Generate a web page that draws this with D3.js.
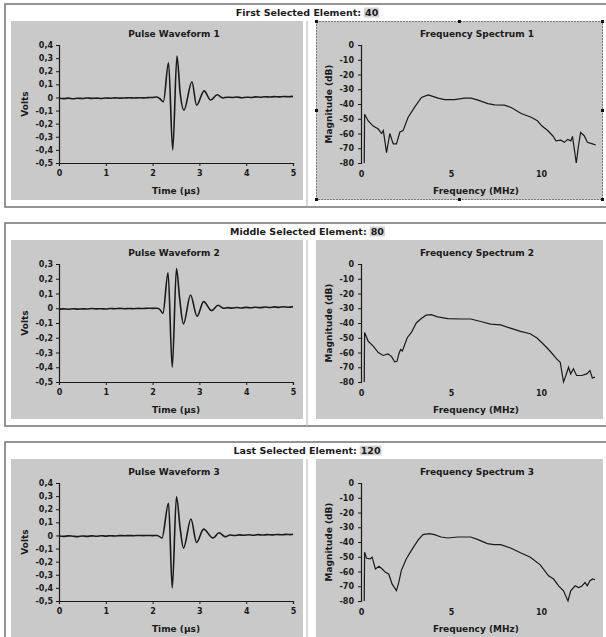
<!DOCTYPE html>
<html>
<head>
<meta charset="utf-8">
<script src="https://cdn.jsdelivr.net/npm/d3@7"></script>
<style>
  body { margin: 0; background: #fff; }
  svg { display: block; font-family: "DejaVu Sans", Verdana, sans-serif; }
</style>
</head>
<body>
<div id="chart"></div>
<script>
// labels
const panelLabels = ["First Selected Element:", "Middle Selected Element:", "Last Selected Element:"];
const elementNumbers = ["40", "80", "120"];
const waveformTitles = ["Pulse Waveform 1", "Pulse Waveform 2", "Pulse Waveform 3"];
const spectrumTitles = ["Frequency Spectrum 1", "Frequency Spectrum 2", "Frequency Spectrum 3"];

// ticks
const timeTicks = [0, 1, 2, 3, 4, 5];
const voltTicks1 = [0.4, 0.3, 0.2, 0.1, 0, -0.1, -0.2, -0.3, -0.4, -0.5];
const voltTicks2 = [0.3, 0.2, 0.1, 0, -0.1, -0.2, -0.3, -0.4, -0.5];
const voltTicks3 = [0.4, 0.3, 0.2, 0.1, 0, -0.1, -0.2, -0.3, -0.4, -0.5];
const freqTicks = [0, 5, 10];
const dbTicks = [0, -10, -20, -30, -40, -50, -60, -70, -80];

// pulse waveforms [time µs, volts]
const pulse1 = [[0,-0.006],[0.1,-0.009],[0.2,-0.005],[0.3,-0.01],[0.4,-0.006],[0.5,-0.008],[0.6,-0.004],[0.7,-0.007],
  [0.8,-0.005],[0.9,-0.008],[1.0,-0.004],[1.1,-0.006],[1.2,-0.003],[1.3,-0.005],[1.4,-0.004],[1.5,-0.002],[1.6,-0.004],
  [1.7,-0.002],[1.8,-0.003],[1.9,-0.001],[2.0,0.0],[2.08,0.003],[2.15,-0.008],[2.23,-0.033],[2.34,0.265],[2.43,-0.40],
  [2.52,0.316],[2.59,0.03],[2.67,-0.097],[2.84,0.12],[2.94,-0.06],[3.10,0.05],[3.24,-0.02],[3.38,0.02],[3.5,-0.004],
  [3.6,0.002],[3.7,0.0],[3.8,0.003],[3.9,-0.002],[4.0,0.002],[4.1,0.0],[4.2,0.004],[4.3,0.002],[4.4,0.005],[4.5,0.003],
  [4.6,0.006],[4.7,0.004],[4.8,0.007],[4.9,0.005],[5.0,0.008]];
const pulse2 = [[0,-0.006],[0.1,-0.004],[0.2,-0.007],[0.3,-0.003],[0.4,-0.006],[0.5,-0.004],[0.6,-0.005],[0.7,-0.002],
  [0.8,-0.004],[0.9,-0.003],[1.0,-0.005],[1.1,-0.002],[1.2,-0.003],[1.3,-0.001],[1.4,-0.003],[1.5,-0.002],[1.6,-0.003],
  [1.7,-0.001],[1.8,-0.002],[1.9,0.0],[2.0,-0.001],[2.1,0.0],[2.16,-0.01],[2.22,-0.034],[2.33,0.24],[2.42,-0.40],
  [2.51,0.27],[2.58,0.06],[2.66,-0.106],[2.81,0.09],[2.95,-0.054],[3.09,0.045],[3.26,-0.016],[3.40,0.02],[3.52,0.0],
  [3.6,0.004],[3.7,0.001],[3.8,0.005],[3.9,0.002],[4.0,0.006],[4.1,0.003],[4.2,0.007],[4.3,0.004],[4.4,0.008],
  [4.5,0.005],[4.6,0.009],[4.7,0.006],[4.8,0.01],[4.9,0.007],[5.0,0.011]];
const pulse3 = [[0,-0.004],[0.1,-0.007],[0.2,-0.003],[0.3,-0.006],[0.4,-0.009],[0.5,-0.004],[0.6,-0.007],[0.7,-0.003],
  [0.8,-0.006],[0.9,-0.002],[1.0,-0.005],[1.1,-0.002],[1.2,-0.004],[1.3,-0.001],[1.4,-0.002],[1.5,-0.001],[1.6,-0.002],
  [1.7,0.0],[1.8,-0.001],[1.9,0.0],[2.0,-0.001],[2.1,0.0],[2.2,-0.02],[2.34,0.245],[2.42,-0.40],[2.51,0.296],
  [2.59,0.05],[2.66,-0.097],[2.82,0.125],[2.94,-0.054],[3.09,0.048],[3.29,-0.02],[3.42,0.02],[3.56,-0.01],[3.65,0.003],
  [3.75,0.0],[3.85,0.004],[3.95,0.001],[4.05,0.005],[4.15,0.002],[4.25,0.006],[4.35,0.003],[4.45,0.006],[4.55,0.004],
  [4.65,0.007],[4.75,0.005],[4.85,0.008],[4.95,0.006],[5.0,0.009]];

// frequency spectra [MHz, dB]
const spectrum1 = [[0.18,-80],[0.2,-47],[0.4,-51.5],[0.68,-55],[0.96,-57],[1.14,-60],[1.24,-58],[1.42,-73],[1.6,-60],
  [1.79,-67],[1.97,-67],[2.16,-59],[2.34,-58],[2.43,-55],[2.62,-49],[2.99,-42],[3.36,-35.6],[3.73,-33.8],[3.9,-34.5],
  [4.28,-36],[4.65,-37],[5.2,-37],[5.76,-36],[6.12,-36],[6.5,-37.4],[7.05,-39.7],[7.42,-40.6],[7.97,-40.8],[8.34,-42.4],
  [8.9,-46.4],[9.45,-49],[9.8,-51.4],[10.04,-54.8],[10.37,-58],[10.65,-61.5],[10.83,-65],[11.1,-64.5],[11.3,-66],
  [11.48,-64],[11.66,-65],[11.75,-62],[11.85,-70.5],[11.96,-80],[12.07,-69.4],[12.2,-59.3],[12.4,-61.5],[12.58,-66],
  [12.86,-67],[13.04,-67.8]];
const spectrum2 = [[0.18,-80],[0.2,-46.4],[0.4,-52.4],[0.68,-55.7],[0.96,-60],[1.23,-62],[1.5,-61],[1.7,-62.8],
  [1.87,-66.3],[2.0,-66],[2.1,-61],[2.2,-58],[2.3,-59],[2.43,-54.6],[2.57,-50],[2.8,-46.4],[3.07,-40],[3.35,-37],
  [3.62,-34.7],[3.9,-34.3],[4.26,-35.8],[4.82,-37],[5.55,-37.3],[6.1,-37.3],[6.65,-39],[7.2,-40.7],[7.76,-41.3],
  [8.3,-43.5],[8.86,-45.7],[9.4,-47.3],[9.78,-50.2],[10.15,-54.6],[10.5,-59],[10.88,-64.5],[11.07,-66.7],[11.16,-73.4],
  [11.25,-80],[11.38,-75.6],[11.53,-70],[11.65,-74.5],[11.8,-71],[11.98,-75.6],[12.26,-75.6],[12.54,-74.5],[12.72,-72.3],
  [12.85,-77.3],[13.0,-76.7]];
const spectrum3 = [[0.18,-80],[0.2,-46.9],[0.31,-51],[0.5,-51.4],[0.62,-50.3],[0.8,-58.3],[1.0,-56.5],[1.18,-58.3],
  [1.36,-60.6],[1.54,-61.7],[1.73,-68.6],[1.97,-73],[2.1,-67.4],[2.24,-59.4],[2.52,-51.4],[2.8,-45.7],[3.16,-38.9],
  [3.44,-35],[3.8,-34.3],[4.08,-35],[4.45,-36.6],[4.82,-37.3],[5.37,-36.6],[6.1,-36.6],[6.47,-38.2],[7.02,-41.1],
  [7.39,-41.8],[7.76,-41.8],[8.31,-44.1],[8.86,-47.3],[9.41,-50.3],[9.96,-55.5],[10.42,-62.9],[10.7,-65.1],[10.98,-69.7],
  [11.25,-73.1],[11.5,-80],[11.65,-73.1],[11.9,-69.7],[12.08,-70.9],[12.26,-70],[12.45,-67.4],[12.57,-69.7],
  [12.72,-66.3],[12.87,-65.1],[13.0,-65.6]];

const pulses = [pulse1, pulse2, pulse3];
const voltTickSets = [voltTicks1, voltTicks2, voltTicks3];
const spectra = [spectrum1, spectrum2, spectrum3];

// layout
const w = 606, h = 637;
const panelTops = [4, 223, 442];
const panelH = 203;
const ink = "#1a1a1a", paneFill = "#c9c9c9";

const svg = d3.select("#chart").append("svg").attr("width", w).attr("height", h);

const voltFmt = v => v === 0 ? "0" : d3.format(".1f")(v).replace("−", "-").replace(".", ",");
const dbFmt = v => String(v);

function styleAxis(g) {
  g.selectAll("path.domain").attr("stroke", ink).attr("stroke-width", 1.2);
  g.selectAll(".tick line").attr("stroke", ink);
  g.selectAll(".tick text").attr("fill", ink).style("font-size", "8px").style("font-weight", "bold")
    .style("font-family", "'DejaVu Sans', Verdana, sans-serif");
}

function boldText(sel, size) {
  return sel.style("font-size", size + "px").style("font-weight", "bold").attr("fill", ink);
}

panelTops.forEach((top, i) => {
  const p = svg.append("g");
  const G = top + 17;
  const plotTop = G + 24, plotBottom = G + 142;

  // outer frame
  p.append("rect").attr("x", 5).attr("y", top).attr("width", 602).attr("height", panelH)
    .attr("fill", "#fff").attr("stroke", "#7a7a7a").attr("stroke-width", 1.6);

  // header: label + highlighted number
  const head = p.append("g");
  const lab = boldText(head.append("text").attr("x", 0).attr("y", top + 12), 9.5).text(panelLabels[i]);
  const lw = lab.node().getComputedTextLength();
  const num = boldText(head.append("text").attr("x", lw + 4).attr("y", top + 12), 9.5).text(elementNumbers[i]);
  const nw = num.node().getComputedTextLength();
  head.insert("rect", "text:last-child").attr("x", lw + 3).attr("y", top + 3.5).attr("width", nw + 2).attr("height", 10)
    .attr("fill", "#d4d4d4");
  head.attr("transform", `translate(${307 - (lw + 4 + nw) / 2},0)`);

  // chart panes
  p.append("rect").attr("x", 11).attr("y", G).attr("width", 292).attr("height", 179).attr("fill", paneFill);
  p.append("line").attr("x1", 307).attr("x2", 307).attr("y1", G).attr("y2", top + panelH)
    .attr("stroke", "#b0b0b0").attr("stroke-width", 1);
  p.append("rect").attr("x", 316).attr("y", G).attr("width", 287).attr("height", 179).attr("fill", paneFill);

  // --- pulse waveform ---
  const vt = voltTickSets[i];
  const xT = d3.scaleLinear().domain([0, 5]).range([59, 293]);
  const yV = d3.scaleLinear().domain([d3.min(vt), d3.max(vt)]).range([plotBottom, plotTop]);

  p.append("g").attr("transform", `translate(0,${plotBottom})`)
    .call(d3.axisBottom(xT).tickValues(timeTicks).tickFormat(d3.format("d")).tickSize(3).tickPadding(4))
    .call(styleAxis);
  p.append("g").attr("transform", `translate(59,0)`)
    .call(d3.axisLeft(yV).tickValues(vt).tickFormat(voltFmt).tickSize(3).tickPadding(3))
    .call(styleAxis);

  p.append("path").datum(pulses[i])
    .attr("fill", "none").attr("stroke", ink).attr("stroke-width", 1.6)
    .attr("d", d3.line().x(d => xT(d[0])).y(d => yV(d[1])).curve(d3.curveMonotoneX));

  boldText(p.append("text").attr("x", 174).attr("y", G + 16).attr("text-anchor", "middle"), 9).text(waveformTitles[i]);
  boldText(p.append("text").attr("x", 176).attr("y", plotBottom + 31).attr("text-anchor", "middle"), 9).text("Time (µs)");
  boldText(p.append("text").attr("transform", `translate(28,${(plotTop + plotBottom) / 2}) rotate(-90)`)
    .attr("text-anchor", "middle"), 9).text("Volts");

  // --- frequency spectrum ---
  const xF = d3.scaleLinear().domain([0, 13.2]).range([361, 598.6]);
  const yD = d3.scaleLinear().domain([-80, 0]).range([plotBottom, plotTop]);

  const xa = p.append("g").attr("transform", `translate(0,${plotBottom})`)
    .call(d3.axisBottom(xF).tickValues(freqTicks).tickFormat(d3.format("d")).tickSize(0).tickPadding(8))
    .call(styleAxis);
  xa.select("path.domain").remove();
  p.append("g").attr("transform", `translate(361,0)`)
    .call(d3.axisLeft(yD).tickValues(dbTicks).tickFormat(dbFmt).tickSize(3).tickPadding(4))
    .call(styleAxis);

  p.append("path").datum(spectra[i])
    .attr("fill", "none").attr("stroke", ink).attr("stroke-width", 1.2)
    .attr("d", d3.line().x(d => xF(d[0])).y(d => yD(d[1])));

  boldText(p.append("text").attr("x", 477).attr("y", G + 16).attr("text-anchor", "middle"), 9).text(spectrumTitles[i]);
  boldText(p.append("text").attr("x", 476).attr("y", plotBottom + 31).attr("text-anchor", "middle"), 9).text("Frequency (MHz)");
  boldText(p.append("text").attr("transform", `translate(332,${(plotTop + plotBottom) / 2}) rotate(-90)`)
    .attr("text-anchor", "middle"), 9).text("Magnitude (dB)");

  // selection frame on the first spectrum chart
  if (i === 0) {
    p.append("rect").attr("x", 316.5).attr("y", G + 0.5).attr("width", 286).attr("height", 178)
      .attr("fill", "none").attr("stroke", "#333").attr("stroke-dasharray", "1,2");
    const hx = [316.5, 459.5, 602.5], hy = [G + 0.5, G + 89.5, G + 178.5];
    hx.forEach((x, a) => hy.forEach((y, b) => {
      if (a === 1 && b === 1) return;
      p.append("rect").attr("x", x - 1.5).attr("y", y - 1.5).attr("width", 3).attr("height", 3).attr("fill", "#111");
    }));
  }
});
</script>
</body>
</html>
